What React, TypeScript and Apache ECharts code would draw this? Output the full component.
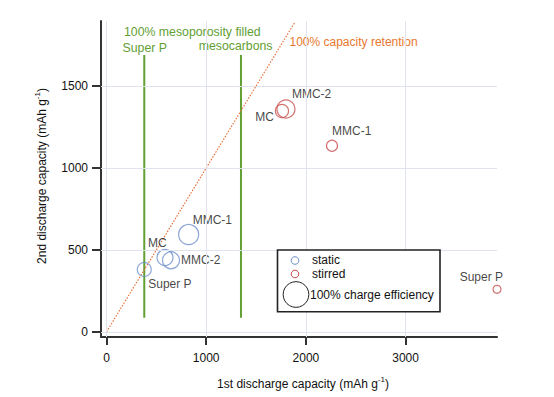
import React, { useEffect, useRef } from "react";
import * as echarts from "echarts";

const xTicks = [0, 1000, 2000, 3000];
const yTicks = [0, 500, 1000, 1500];

const staticNames = ["Super P", "MC", "MMC-2", "MMC-1"];
const staticFirst = [379, 587, 647, 824];
const staticSecond = [381, 454, 437, 594];
const staticEff = [54, 62, 66, 78];

const stirredNames = ["MC", "MMC-2", "MMC-1", "Super P"];
const stirredFirst = [1760, 1800, 2262, 3917];
const stirredSecond = [1348, 1360, 1136, 260];
const stirredEff = [51, 70, 43, 31];

const retentionLine = [[0, 0], [1890, 1890]];
const superPMeso = [[379, 87], [379, 1690]];
const mesocarbonMeso = [[1349, 87], [1349, 1690]];

const FONT = "'Liberation Sans', Arial, Helvetica, sans-serif";
const FULL_DIAM = 25.7;

// label layout (offset from symbol centre, alignment)
const staticLabelLayout = [
  { dx: 4, dy: 14.5, align: "left" },
  { dx: -17, dy: -15, align: "left" },
  { dx: 10, dy: 0, align: "left" },
  { dx: 4, dy: -15, align: "left" },
];
const stirredLabelLayout = [
  { dx: -8, dy: 6.5, align: "right" },
  { dx: 6, dy: -15, align: "left" },
  { dx: 0, dy: -15, align: "left" },
  { dx: 6, dy: -12, align: "right" },
];

function buildPoints(names: string[], xs: number[], ys: number[], eff: number[], layout: any[]) {
  return names.map((n, i) => ({
    name: n,
    value: [xs[i], ys[i], eff[i]],
    label: {
      show: true,
      formatter: n,
      position: "inside",
      align: layout[i].align,
      verticalAlign: "middle",
      offset: [layout[i].dx, layout[i].dy],
      color: "#111",
      fontSize: 12,
      fontFamily: FONT,
    },
  }));
}

export default function App() {
  const ref = useRef<HTMLDivElement>(null);
  useEffect(() => {
    document.body.style.margin = "0";
    if (!ref.current) return;
    const chart = echarts.init(ref.current, undefined, { renderer: "svg" });
    const gridColor = "#e0e2ee";
    const axisColor = "#333333";
    const green = "#62a034";
    const titleRich = {
      a: { fontSize: 12, fontFamily: FONT, fill: "#111", lineHeight: 16 },
      s: { fontSize: 8, fontFamily: FONT, fill: "#111", lineHeight: 16, padding: [0, 0, 9, 0] },
    };
    const option: any = {
      animation: false,
      backgroundColor: "#ffffff",
      textStyle: { fontFamily: FONT },
      grid: { left: 101, right: 57, top: 21, bottom: 60 },
      xAxis: {
        type: "value",
        min: -55,
        max: 3917,
        axisLine: { show: true, onZero: false, lineStyle: { color: axisColor, width: 2 } },
        axisTick: { show: true, length: 8, customValues: xTicks, lineStyle: { color: axisColor, width: 2 } },
        axisLabel: {
          customValues: xTicks,
          formatter: (v: number) => String(v),
          color: "#111",
          fontSize: 12,
          margin: 15,
          fontFamily: FONT,
        },
        splitLine: { show: false },
      },
      yAxis: {
        type: "value",
        min: -31,
        max: 1897,
        axisLine: { show: true, onZero: false, lineStyle: { color: axisColor, width: 2 } },
        axisTick: { show: true, length: 9, customValues: yTicks, lineStyle: { color: axisColor, width: 2 } },
        axisLabel: {
          customValues: yTicks,
          formatter: (v: number) => String(v),
          color: "#111",
          fontSize: 12,
          margin: 13,
          fontFamily: FONT,
        },
        splitLine: { show: false },
      },
      series: [
        {
          type: "line",
          data: [],
          z: 0,
          silent: true,
          markLine: {
            silent: true,
            symbol: ["none", "none"],
            label: { show: false },
            lineStyle: { color: gridColor, width: 1, type: "solid" },
            data: [
              ...xTicks.map((v) => ({ xAxis: v })),
              ...yTicks.map((v) => ({ yAxis: v })),
            ],
          },
        },
        {
          type: "line",
          data: superPMeso,
          symbol: "none",
          lineStyle: { color: green, width: 2 },
          z: 2,
        },
        {
          type: "line",
          data: mesocarbonMeso,
          symbol: "none",
          lineStyle: { color: green, width: 2 },
          z: 2,
        },
        {
          type: "line",
          data: retentionLine,
          symbol: "none",
          lineStyle: { color: "#e8703a", width: 1.2, type: [1.5, 1.5] },
          z: 3,
        },
        {
          type: "scatter",
          name: "static",
          data: buildPoints(staticNames, staticFirst, staticSecond, staticEff, staticLabelLayout),
          symbol: "circle",
          symbolSize: (v: number[]) => (FULL_DIAM * v[2]) / 100,
          itemStyle: { color: "transparent", borderColor: "#6f90cc", borderWidth: 1.2 },
          clip: false,
          z: 4,
        },
        {
          type: "scatter",
          name: "stirred",
          data: buildPoints(stirredNames, stirredFirst, stirredSecond, stirredEff, stirredLabelLayout),
          symbol: "circle",
          symbolSize: (v: number[]) => (FULL_DIAM * v[2]) / 100,
          itemStyle: { color: "transparent", borderColor: "#c84c4c", borderWidth: 1.2 },
          clip: false,
          z: 4,
        },
      ],
      graphic: [
        // axis titles
        {
          type: "text",
          x: 303,
          y: 384,
          style: {
            text: "{a|1st discharge capacity (mAh g}{s|-1}{a|)}",
            align: "center",
            verticalAlign: "middle",
            rich: titleRich,
          },
        },
        {
          type: "text",
          x: 42,
          y: 176,
          rotation: Math.PI / 2,
          style: {
            text: "{a|2nd discharge capacity (mAh g}{s|-1}{a|)}",
            align: "center",
            verticalAlign: "middle",
            rich: titleRich,
          },
        },
        // green annotations
        {
          type: "text",
          x: 124,
          y: 31.5,
          style: { text: "100% mesoporosity filled", fontSize: 12.3, fontFamily: FONT, fill: green, align: "left", verticalAlign: "middle" },
        },
        {
          type: "text",
          x: 122.5,
          y: 47.5,
          style: { text: "Super P", fontSize: 12.3, fontFamily: FONT, fill: green, align: "left", verticalAlign: "middle" },
        },
        {
          type: "text",
          x: 272.5,
          y: 46,
          style: { text: "mesocarbons", fontSize: 12.3, fontFamily: FONT, fill: green, align: "right", verticalAlign: "middle" },
        },
        {
          type: "text",
          x: 289.5,
          y: 41.5,
          style: { text: "100% capacity retention", fontSize: 12, fontFamily: FONT, fill: "#e8772e", align: "left", verticalAlign: "middle" },
        },
        // legend box
        {
          type: "rect",
          shape: { x: 277.5, y: 250, width: 162.5, height: 61.7 },
          style: { fill: "#ffffff", stroke: "#222", lineWidth: 1.6 },
          z: 10,
        },
        {
          type: "circle",
          shape: { cx: 295, cy: 260.5, r: 3.8 },
          style: { fill: "none", stroke: "#6f90cc", lineWidth: 1 },
          z: 11,
        },
        {
          type: "circle",
          shape: { cx: 295, cy: 274, r: 3.8 },
          style: { fill: "none", stroke: "#c84c4c", lineWidth: 1 },
          z: 11,
        },
        {
          type: "circle",
          shape: { cx: 296, cy: 294.5, r: FULL_DIAM / 2 },
          style: { fill: "none", stroke: "#222", lineWidth: 1 },
          z: 11,
        },
        {
          type: "text",
          x: 312,
          y: 260,
          style: { text: "static", fontSize: 12, fontFamily: FONT, fill: "#111", verticalAlign: "middle" },
          z: 11,
        },
        {
          type: "text",
          x: 312,
          y: 273.5,
          style: { text: "stirred", fontSize: 12, fontFamily: FONT, fill: "#111", verticalAlign: "middle" },
          z: 11,
        },
        {
          type: "text",
          x: 310,
          y: 295,
          style: { text: "100% charge efficiency", fontSize: 12, fontFamily: FONT, fill: "#111", verticalAlign: "middle" },
          z: 11,
        },
      ],
    };
    chart.setOption(option);
    return () => chart.dispose();
  }, []);
  return <div ref={ref} style={{ width: 554, height: 397 }} />;
}
